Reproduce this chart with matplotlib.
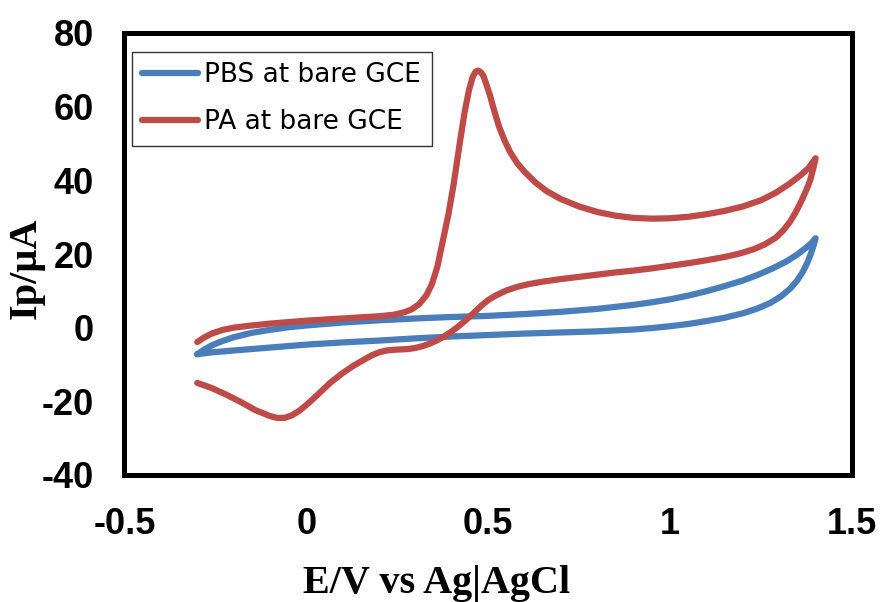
import matplotlib
matplotlib.use('Agg')
import matplotlib.pyplot as plt

plt.rcParams['axes.unicode_minus'] = False

# cyclic voltammograms, sweep starts at -0.3 V, goes to 1.4 V and back
pbs_E = [-0.30, -0.28, -0.26, -0.23, -0.20, -0.15, -0.10, -0.05, 0.00, 0.10,
         0.20, 0.30, 0.40, 0.50, 0.60, 0.70, 0.80, 0.90, 0.95, 1.00,
         1.05, 1.10, 1.15, 1.20, 1.24, 1.28, 1.32, 1.35, 1.375, 1.39, 1.40,
         1.395, 1.388, 1.378, 1.365, 1.35, 1.33, 1.305, 1.275, 1.24, 1.20,
         1.15, 1.10, 1.05, 1.00, 0.95, 0.90, 0.80, 0.70, 0.60, 0.50,
         0.40, 0.30, 0.20, 0.10, 0.00, -0.10, -0.20, -0.26, -0.30]
pbs_I = [-7.2, -5.9, -4.8, -3.6, -2.6, -1.4, -0.6, 0.1, 0.6, 1.4,
         2.0, 2.5, 2.9, 3.2, 3.7, 4.3, 5.1, 6.2, 6.9, 7.7,
         8.7, 9.9, 11.3, 12.8, 14.3, 16.0, 18.0, 19.9, 21.8, 23.1, 24.3,
         22.5, 20.4, 17.8, 15.2, 12.9, 10.6, 8.5, 6.7, 5.2, 3.9,
         2.7, 1.8, 1.0, 0.4, -0.1, -0.5, -1.0, -1.3, -1.6, -2.0,
         -2.4, -2.9, -3.5, -4.0, -4.6, -5.4, -6.2, -6.7, -7.2]

pa_E = [-0.30, -0.28, -0.26, -0.23, -0.20, -0.15, -0.10, -0.05, 0.00, 0.05,
        0.10, 0.15, 0.20, 0.24, 0.27, 0.29, 0.31, 0.33, 0.345, 0.36,
        0.375, 0.39, 0.405, 0.42, 0.435, 0.447, 0.457, 0.465, 0.472, 0.479,
        0.487, 0.495, 0.505, 0.517, 0.53, 0.545, 0.56, 0.58, 0.60, 0.63,
        0.66, 0.70, 0.75, 0.80, 0.85, 0.90, 0.95, 1.00, 1.05, 1.10,
        1.15, 1.20, 1.25, 1.29, 1.33, 1.36, 1.38, 1.40,
        1.393, 1.385, 1.375, 1.36, 1.345, 1.33, 1.31, 1.29, 1.26, 1.23,
        1.19, 1.15, 1.10, 1.05, 1.00, 0.95, 0.90, 0.85, 0.80, 0.75,
        0.70, 0.65, 0.61, 0.58, 0.55, 0.52, 0.50, 0.48, 0.46, 0.44,
        0.42, 0.40, 0.38, 0.36, 0.34, 0.32, 0.30, 0.28, 0.26, 0.24,
        0.22, 0.20, 0.18, 0.16, 0.13, 0.10, 0.065, 0.03, 0.00, -0.02,
        -0.04, -0.06, -0.08, -0.10, -0.14, -0.18, -0.22, -0.26, -0.30]
pa_I = [-3.9, -2.6, -1.6, -0.6, 0.0, 0.6, 1.1, 1.5, 1.9, 2.2,
        2.5, 2.8, 3.1, 3.5, 4.2, 5.0, 6.4, 8.8, 11.8, 16.5,
        23.5, 30.5, 39.0, 49.0, 58.5, 64.5, 68.0, 69.5, 69.8, 69.4,
        68.3, 66.0, 63.0, 58.7, 54.5, 50.8, 47.7, 44.6, 42.3, 39.4,
        37.1, 34.9, 32.9, 31.4, 30.4, 29.8, 29.6, 29.7, 30.1, 30.8,
        31.7, 32.9, 34.6, 36.6, 39.2, 41.5, 43.3, 46.0,
        43.0, 40.0, 37.5, 34.2, 31.3, 28.8, 26.3, 24.4, 22.6, 21.3,
        20.1, 19.2, 18.3, 17.5, 16.8, 16.1, 15.5, 15.0, 14.4, 13.8,
        13.2, 12.5, 11.8, 11.1, 10.1, 8.7, 7.5, 5.9, 4.0, 2.2,
        0.5, -1.0, -2.3, -3.4, -4.3, -5.0, -5.5, -5.8, -5.9, -6.0,
        -6.2, -6.7, -7.5, -8.6, -10.3, -12.3, -15.0, -18.3, -21.0, -22.6,
        -23.8, -24.5, -24.5, -24.0, -22.4, -20.2, -18.2, -16.4, -15.0]

x_ticks = [-0.5, 0, 0.5, 1, 1.5]
x_labels = ['-0.5', '0', '0.5', '1', '1.5']
y_ticks = [-40, -20, 0, 20, 40, 60, 80]
y_labels = ['-40', '-20', '0', '20', '40', '60', '80']

fig = plt.figure(figsize=(8.86, 6.02), dpi=100)
ax = fig.add_axes([124.5 / 886, 1 - 475 / 602, (852 - 124.5) / 886, (475 - 33) / 602])

line_kw = dict(linewidth=4.5, solid_capstyle='round', solid_joinstyle='round')
ax.plot(pbs_E, pbs_I, color='#4A7EBB', label='PBS at bare GCE', **line_kw)
ax.plot(pa_E, pa_I, color='#BE4B48', label='PA at bare GCE', **line_kw)

ax.set_xlim(-0.5, 1.5)
ax.set_ylim(-40, 80)
ax.set_xticks(x_ticks)
ax.set_xticklabels(x_labels)
ax.set_yticks(y_ticks)
ax.set_yticklabels(y_labels)

tick_font = dict(family='Liberation Sans', weight='bold', size=26)
for lab in ax.get_xticklabels() + ax.get_yticklabels():
    lab.set(**tick_font)
ax.tick_params(axis='x', length=0, pad=23)
ax.tick_params(axis='y', length=0, pad=22)

for sp in ax.spines.values():
    sp.set_linewidth(3.6)
    sp.set_color('black')

label_font = dict(family='Liberation Serif', weight='bold', size=29)
fig.text(437 / 886, 1 - 593 / 602, 'E/V vs Ag|AgCl', ha='center', va='baseline', **label_font)
fig.text(26 / 886, 1 - 268 / 602, 'Ip/µA', ha='center', va='center', rotation=90, **label_font)

leg = ax.legend(loc='upper left', bbox_to_anchor=(0.010, 0.958), borderaxespad=0,
                prop=dict(family='DejaVu Sans', size=19), frameon=True, fancybox=False,
                handlelength=2.1, handletextpad=0.25, labelspacing=0.8, borderpad=0.4)
leg.get_frame().set_edgecolor('black')
leg.get_frame().set_linewidth(1.0)

fig.savefig('out.png', dpi=100)
